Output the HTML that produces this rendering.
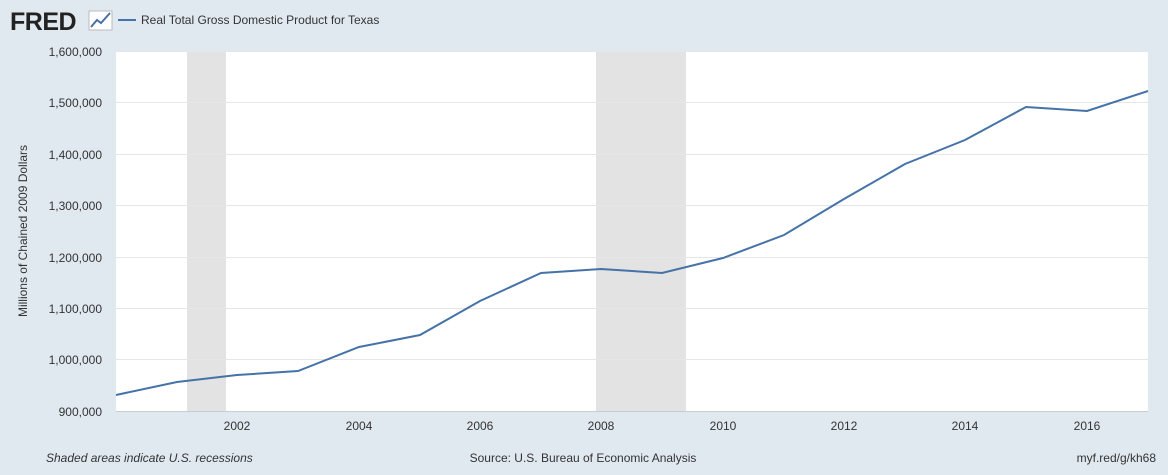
<!DOCTYPE html>
<html><head><meta charset="utf-8"><style>
body{margin:0;background:#e1e9f0;width:1168px;height:470px;overflow:hidden;font-family:"Liberation Sans",sans-serif;}
</style></head><body>
<svg width="1168" height="470" xmlns="http://www.w3.org/2000/svg" font-family="Liberation Sans, sans-serif">
<rect width="1168" height="470" fill="#e1e9f0"/>
<text x="10" y="30" font-size="25" font-weight="bold" fill="#222" letter-spacing="-0.5">FRED</text>
<rect x="89" y="11" width="23" height="19" fill="#fff" stroke="#bbb"/>
<polyline points="91,27 97,20 101,23 110,13" fill="none" stroke="#4a6fa5" stroke-width="2"/>
<line x1="118" y1="20" x2="136" y2="20" stroke="#4572a7" stroke-width="2"/>
<text x="141" y="24" font-size="12" fill="#333">Real Total Gross Domestic Product for Texas</text>
<rect x="116" y="51" width="1032" height="360" fill="#fff"/>
<rect x="187" y="51" width="39" height="360" fill="#e3e3e3"/>
<rect x="596" y="51" width="90" height="360" fill="#e3e3e3"/>
<g stroke="#e6e6e6" stroke-width="1">
<line x1="116" y1="51.5" x2="1148" y2="51.5"/><line x1="116" y1="102.5" x2="1148" y2="102.5"/>
<line x1="116" y1="154.5" x2="1148" y2="154.5"/><line x1="116" y1="205.5" x2="1148" y2="205.5"/>
<line x1="116" y1="257.5" x2="1148" y2="257.5"/><line x1="116" y1="308.5" x2="1148" y2="308.5"/>
<line x1="116" y1="359.5" x2="1148" y2="359.5"/>
</g>
<line x1="116" y1="411.5" x2="1148" y2="411.5" stroke="#ccc"/>
<g font-size="12" fill="#333" text-anchor="end">
<text x="102" y="56">1,600,000</text><text x="102" y="107">1,500,000</text>
<text x="102" y="159">1,400,000</text><text x="102" y="210">1,300,000</text>
<text x="102" y="262">1,200,000</text><text x="102" y="313">1,100,000</text>
<text x="102" y="364">1,000,000</text><text x="102" y="416">900,000</text>
</g>
<g font-size="12" fill="#333" text-anchor="middle">
<text x="237" y="430">2002</text><text x="359" y="430">2004</text><text x="480" y="430">2006</text>
<text x="601" y="430">2008</text><text x="723" y="430">2010</text><text x="844" y="430">2012</text>
<text x="965" y="430">2014</text><text x="1087" y="430">2016</text>
</g>
<text transform="translate(27,231) rotate(-90)" font-size="12" fill="#333" text-anchor="middle">Millions of Chained 2009 Dollars</text>
<polyline fill="none" stroke="#4572a7" stroke-width="2" points="116,395 177,382 237,375 298,371 359,347 420,335 480,301 541,273 601,269 662,273 723,258 784,235 844,199 905,164 965,140 1026,107 1087,111 1148,91"/>
<text x="46" y="462" font-size="12" font-style="italic" fill="#333">Shaded areas indicate U.S. recessions</text>
<text x="583" y="462" font-size="12" fill="#333" text-anchor="middle">Source: U.S. Bureau of Economic Analysis</text>
<text x="1156" y="462" font-size="12" fill="#333" text-anchor="end">myf.red/g/kh68</text>
</svg>
</body></html>
